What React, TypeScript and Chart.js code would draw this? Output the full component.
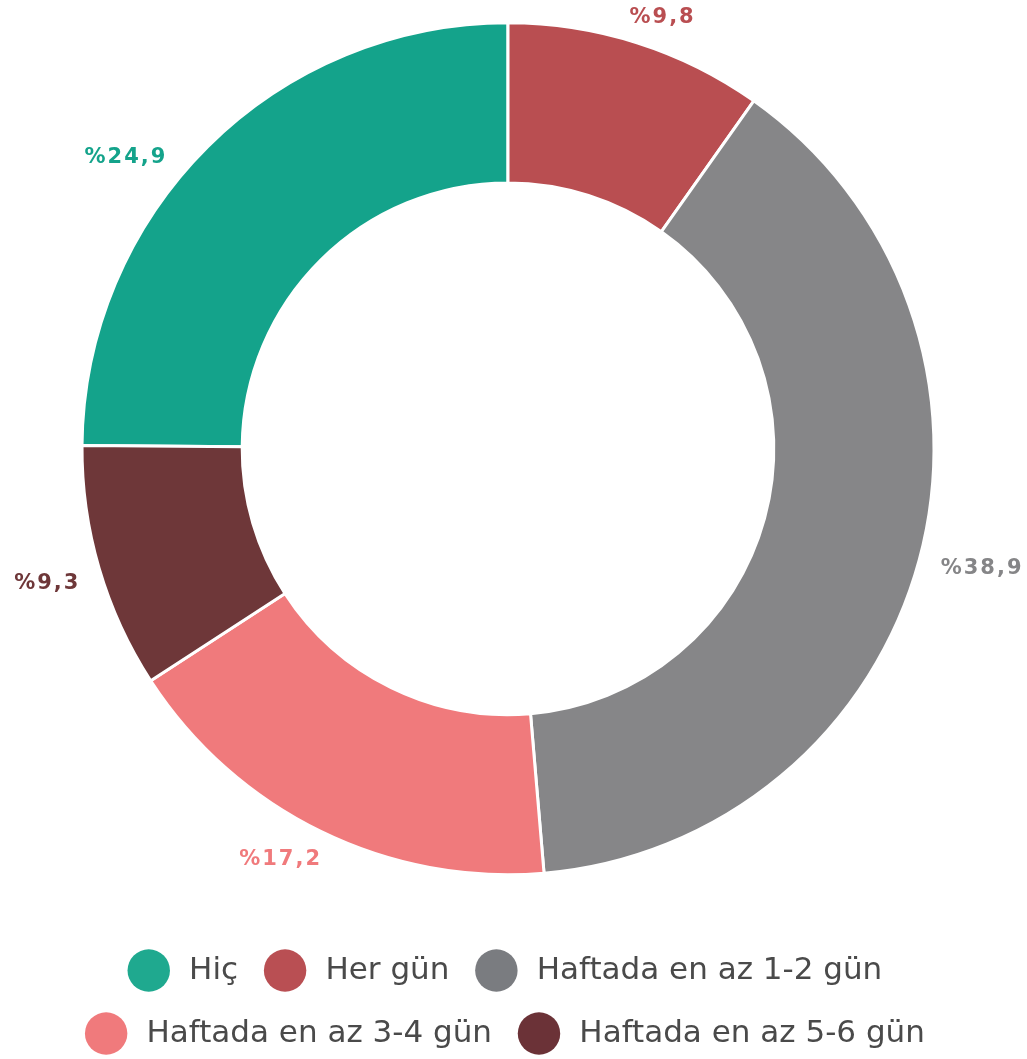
import React, { useEffect, useRef } from 'react';
import { Chart, registerables } from 'chart.js';

Chart.register(...registerables);

const categories = ['Hiç', 'Her gün', 'Haftada en az 1-2 gün', 'Haftada en az 3-4 gün', 'Haftada en az 5-6 gün'];
const values = [24.9, 9.8, 38.9, 17.2, 9.3];
const valueLabels = ['%24,9', '%9,8', '%38,9', '%17,2', '%9,3'];
const sliceColors = ['#14A38B', '#B94E51', '#868688', '#F07A7C', '#6E3739'];
const legendColors = ['#1FA98F', '#B94F53', '#7A7C80', '#F07A7C', '#6B3237'];
const labelColors = ['#14A38B', '#B94E51', '#858587', '#F07A7C', '#6E3739'];

const labelPlugin = {
  id: 'outerLabels',
  afterDatasetsDraw(chart: any, _args: any, opts: any) {
    const ctx = chart.ctx;
    const meta = chart.getDatasetMeta(0);
    ctx.save();
    ctx.font = `bold ${opts.size}px ${opts.family}`;
    (ctx as any).letterSpacing = `${opts.spacing}px`;
    ctx.textAlign = 'center';
    ctx.textBaseline = 'middle';
    meta.data.forEach((arc: any, i: number) => {
      const p = arc.getProps(['x', 'y', 'startAngle', 'endAngle', 'outerRadius'], true);
      const mid = (p.startAngle + p.endAngle) / 2 + ((opts.angleShift[i] || 0) * Math.PI) / 180;
      const r = p.outerRadius + opts.offset[i];
      const text = valueLabels[i];
      const w = ctx.measureText(text).width;
      let lx = p.x + Math.cos(mid) * r;
      let ly = p.y + Math.sin(mid) * r;
      lx = Math.min(Math.max(lx, w / 2 + 6), chart.width - w / 2 - 4);
      ly = Math.min(Math.max(ly, opts.size * 0.5 + 7), chart.height - opts.size * 0.5 - 6);
      ctx.fillStyle = labelColors[i];
      ctx.fillText(text, lx + opts.spacing / 2, ly);
    });
    ctx.restore();
  },
};

export default function App() {
  const ref = useRef<HTMLCanvasElement>(null);
  useEffect(() => {
    if (!ref.current) return;
    const total = values.reduce((a, b) => a + b, 0);
    const chart = new Chart(ref.current, {
      type: 'doughnut',
      data: {
        labels: categories,
        datasets: [
          {
            data: values,
            backgroundColor: sliceColors,
            borderColor: '#ffffff',
            borderWidth: 3,
            hoverOffset: 0,
            radius: 426,
          },
        ],
      },
      options: {
        responsive: false,
        animation: false,
        cutout: '62.4%',
        rotation: -(values[0] / total) * 360,
        layout: { padding: { top: 26, right: 11, left: 0, bottom: 0 } },
        plugins: {
          tooltip: { enabled: false },
          legend: {
            position: 'bottom',
            title: { display: true, text: '', padding: { top: 0, bottom: 37 }, font: { size: 12 } },
            labels: {
              usePointStyle: true,
              pointStyle: 'circle',
              boxWidth: 30,
              boxHeight: 30,
              padding: 32,
              color: '#4a4a4a',
              font: { size: 31, family: 'DejaVu Sans' },
              generateLabels: () =>
                categories.map((c, i) => ({
                  text: ' ' + c,
                  fillStyle: legendColors[i],
                  strokeStyle: legendColors[i],
                  lineWidth: 0,
                  pointStyle: 'circle',
                  hidden: false,
                  index: i,
                  fontColor: '#4a4a4a',
                })),
            },
          },
          outerLabels: {
            size: 21,
            family: 'DejaVu Sans',
            spacing: 2,
            offset: [55, 55, 62, 44, 55],
            angleShift: [-8, 1, -1, 3, 0],
          },
        } as any,
      },
      plugins: [labelPlugin],
    });
    return () => chart.destroy();
  }, []);
  return (
    <div style={{ position: 'fixed', left: 0, top: 0, width: 1027, height: 1059, background: '#ffffff' }}>
      <canvas ref={ref} width={1027} height={1059} />
    </div>
  );
}
